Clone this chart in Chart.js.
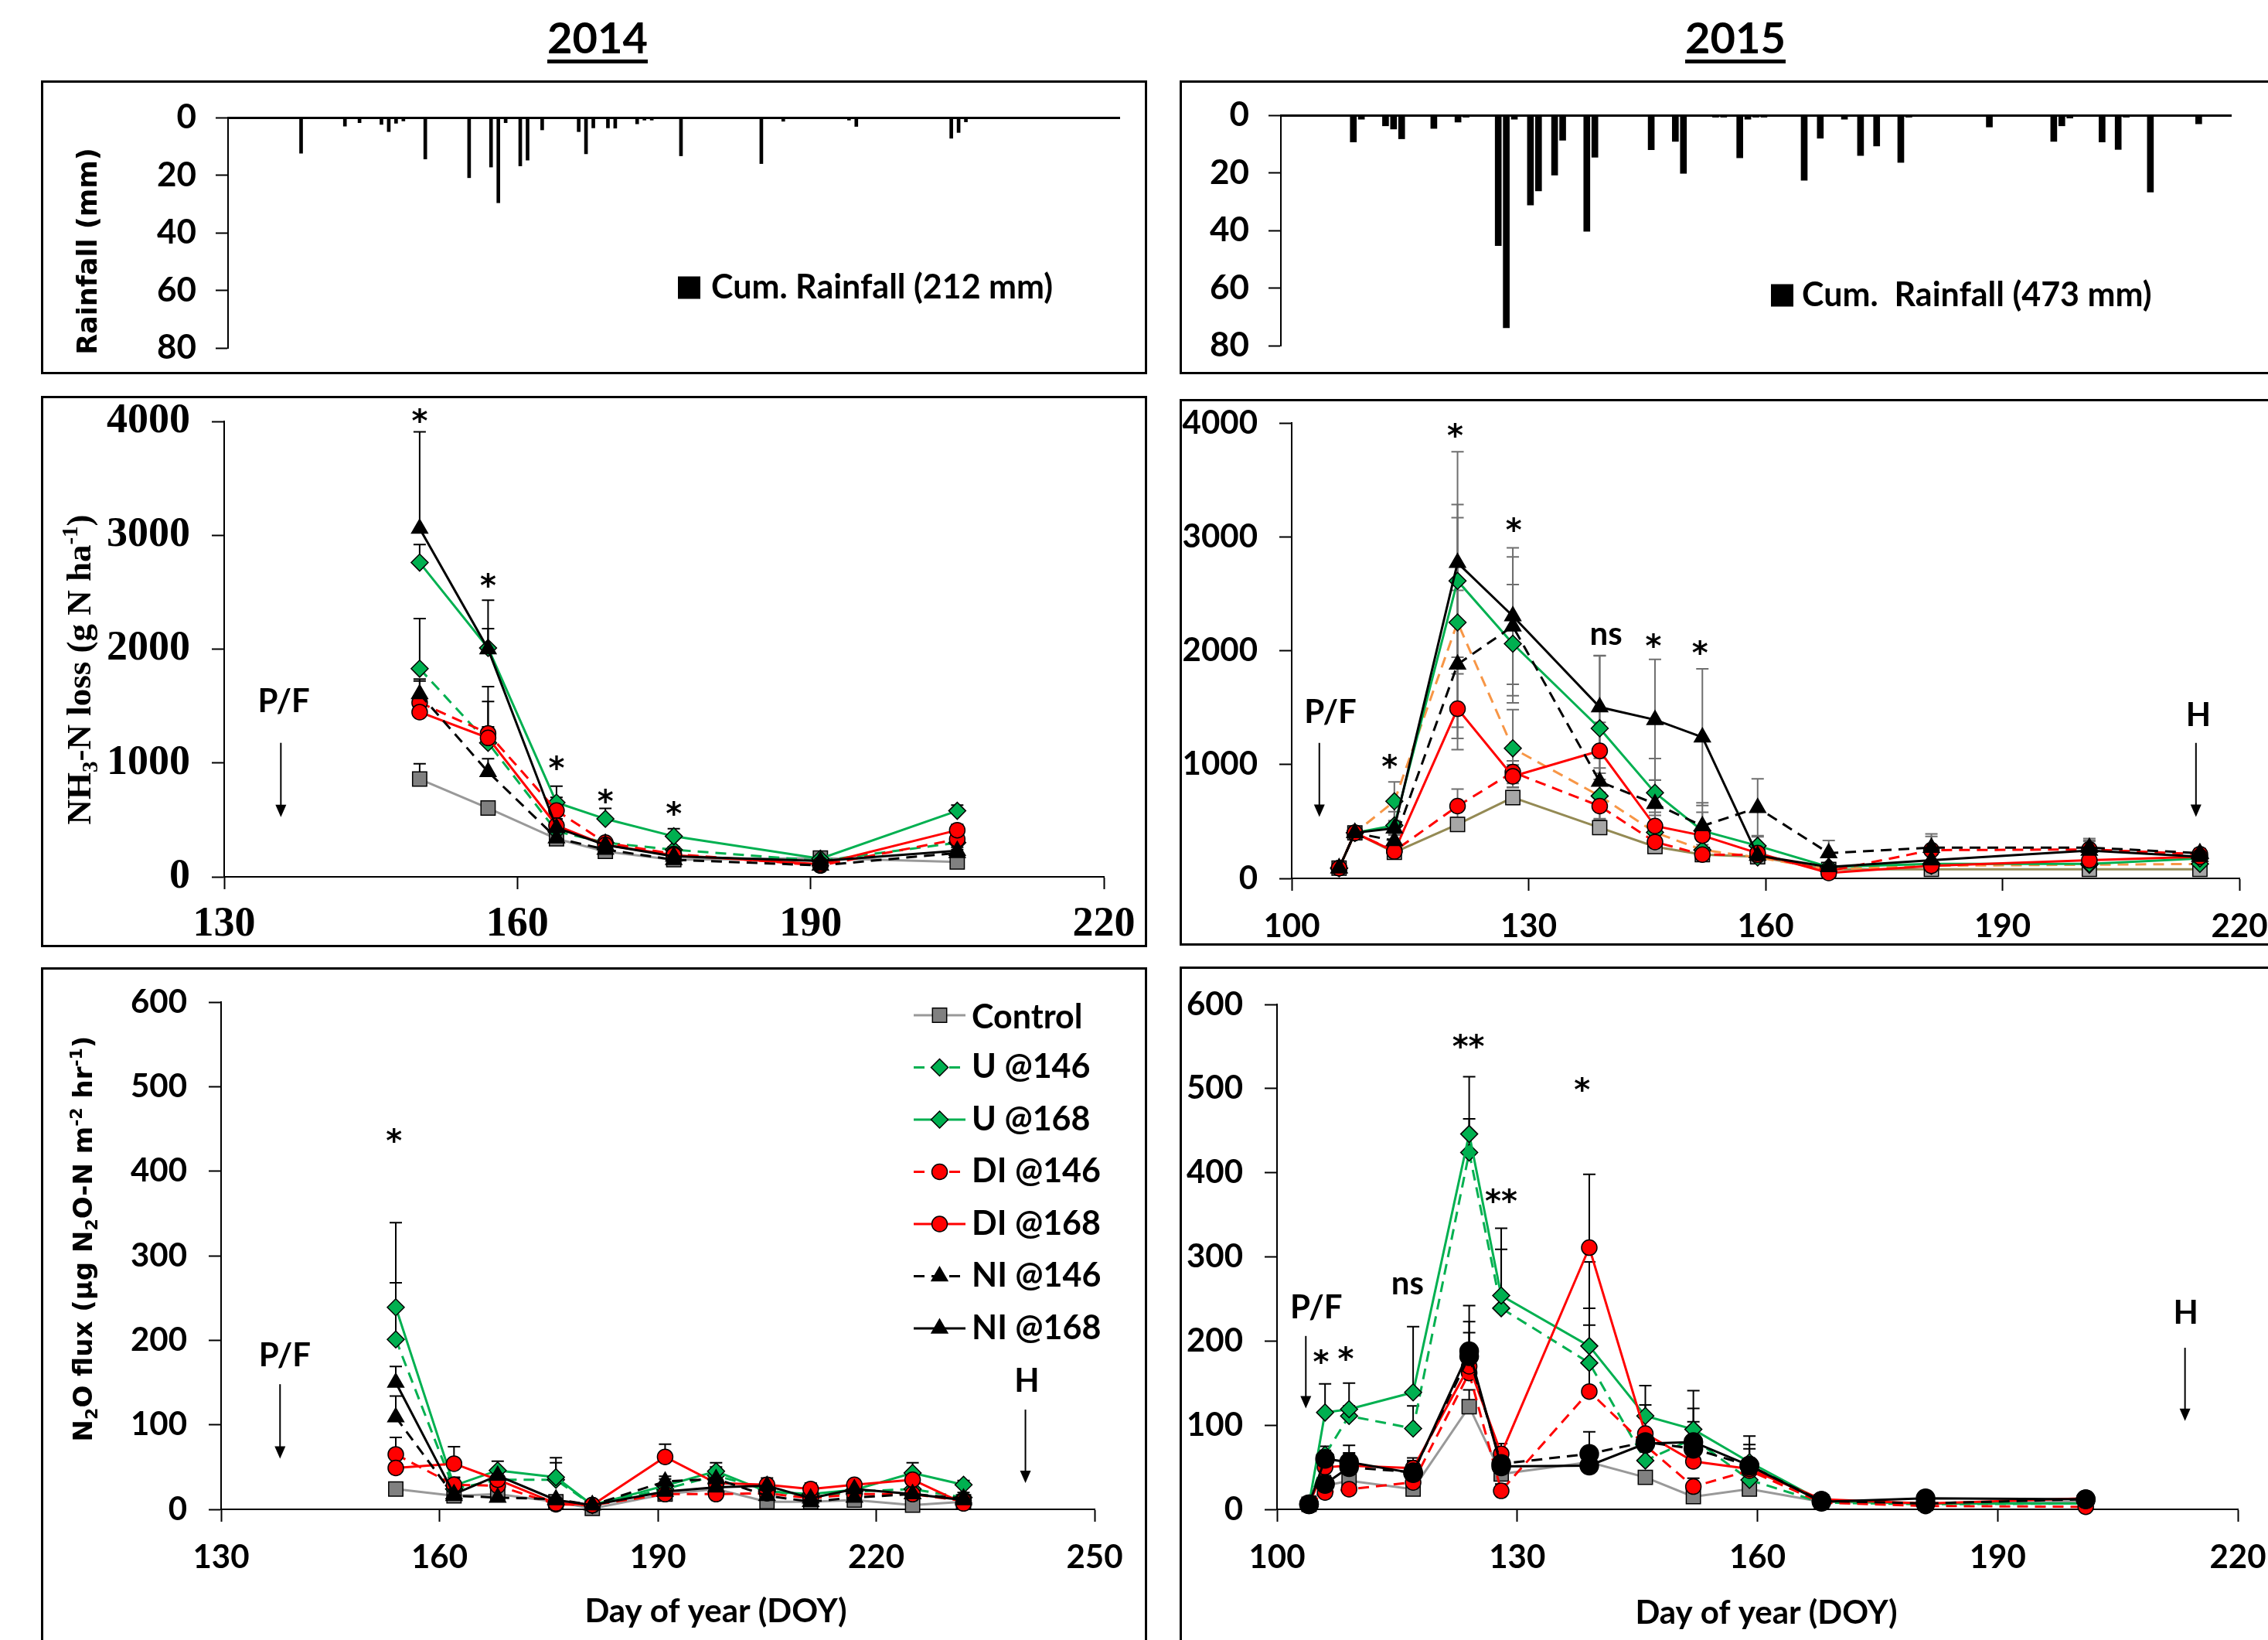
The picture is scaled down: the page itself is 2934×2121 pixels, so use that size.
<!DOCTYPE html>
<html>
<head>
<meta charset="utf-8">
<title>Rainfall, NH3 and N2O losses 2014-2015</title>
<script src="https://cdn.jsdelivr.net/npm/chart.js@4.4.1/dist/chart.umd.min.js"></script>
<style>
  html, body { margin: 0; padding: 0; background: #fff; }
  body { position: relative; width: 2934px; height: 2121px; overflow: hidden; }
  canvas { position: absolute; }
  .frame { position: absolute; border: 3px solid #000; box-sizing: border-box; pointer-events: none; }
  .year { position: absolute; top: 14px; width: 240px; text-align: center; font: bold 56px Lato, sans-serif;
          text-decoration: underline; text-decoration-thickness: 5px; text-underline-offset: 8px; }
</style>
</head>
<body>
<div class="year" style="left:653px">2014</div>
<div class="year" style="left:2125px">2015</div>
<script>
// ---------- data ----------
const seriesNames = ["Control", "U @146", "U @168", "DI @146", "DI @168", "NI @146", "NI @168"];

// daily rainfall (mm)
const rain14Day = [135, 141, 143, 146, 147, 148, 149, 152, 158, 161, 162, 163, 165, 166, 168, 173, 174, 175, 177, 178, 181, 182, 183, 187, 198, 201, 210, 211, 224, 225, 226];
const rain14Mm  = [12.4, 3, 1.8, 2.4, 4.9, 2, 1.2, 14.4, 20.9, 17.2, 29.6, 1.8, 16.8, 14.8, 4.3, 4.9, 12.6, 3.6, 3.6, 3.7, 2.2, 0.9, 0.9, 13.3, 16, 1.3, 0.9, 3.1, 7.2, 5.2, 1.5];
const rain15Day = [109, 110, 113, 114, 115, 119, 122, 123, 127, 128, 129, 131, 132, 134, 135, 138, 139, 146, 149, 150, 154, 155, 157, 158, 159, 160, 165, 167, 170, 172, 174, 177, 178, 188, 196, 197, 198, 202, 204, 205, 208, 214];
const rain15Mm  = [9.3, 1.4, 3.7, 4.8, 8.2, 4.6, 2.4, 0.7, 45.3, 73.8, 1.4, 31.2, 26.3, 20.8, 8.7, 40.3, 14.6, 12, 9.1, 20.2, 0.7, 0.7, 14.8, 1.4, 0.7, 0.7, 22.6, 8, 1.4, 14, 10.7, 16.4, 0.7, 4.1, 9.1, 3.7, 1, 9.3, 11.9, 0.7, 26.7, 3];

// NH3-N loss 2014 (g N ha-1)
const nh14Day     = [150, 157, 164, 169, 176, 191, 205];
const nh14Control = [859, 604, 334, 223, 150, 165, 130];
const nh14U146    = [1828, 1177, 400, 300, 238, 140, 300];
const nh14U168    = [2760, 2010, 652, 509, 356, 160, 580];
const nh14DI146   = [1530, 1260, 582, 300, 200, 100, 330];
const nh14DI168   = [1447, 1220, 450, 280, 190, 110, 410];
const nh14NI146   = [1606, 922, 340, 240, 150, 100, 210];
const nh14NI168   = [3059, 2000, 430, 280, 180, 140, 230];
const nh14ControlErr = [135, 40, 30, 20, 15, 20, 15];
const nh14U146Err    = [440, 140, 60, 30, 25, 20, 40];
const nh14U168Err    = [158, 170, 145, 92, 67, 30, 50];
const nh14DI146Err   = [190, 410, 115, 30, 20, 15, 40];
const nh14DI168Err   = [120, 320, 60, 30, 20, 15, 50];
const nh14NI146Err   = [130, 115, 40, 25, 20, 15, 30];
const nh14NI168Err   = [850, 430, 60, 30, 20, 20, 30];

// NH3-N loss 2015
const nh15Day     = [106, 108, 113, 121, 128, 139, 146, 152, 159, 168, 181, 201, 215];
const nh15Control = [90, 400, 228, 474, 710, 446, 279, 209, 190, 79, 79, 79, 79];
const nh15U146    = [90, 400, 677, 2248, 1142, 724, 404, 250, 184, 79, 111, 120, 127];
const nh15U168    = [90, 400, 465, 2613, 2061, 1318, 752, 418, 286, 100, 127, 127, 175];
const nh15DI146   = [90, 400, 240, 635, 933, 635, 320, 209, 206, 64, 248, 254, 213];
const nh15DI168   = [90, 400, 237, 1490, 897, 1120, 460, 376, 222, 48, 111, 159, 190];
const nh15NI146   = [90, 400, 330, 1880, 2214, 850, 655, 460, 620, 222, 270, 270, 222];
const nh15NI168   = [90, 400, 440, 2772, 2304, 1504, 1393, 1240, 200, 100, 159, 245, 190];
const nh15ControlErr = [10, 20, 30, 60, 60, 40, 30, 20, 20, 10, 10, 10, 10];
const nh15U146Err    = [10, 30, 170, 920, 340, 200, 150, 80, 50, 20, 30, 20, 20];
const nh15U168Err    = [10, 30, 120, 670, 520, 640, 300, 245, 90, 20, 30, 30, 30];
const nh15DI146Err   = [10, 30, 40, 150, 100, 120, 80, 50, 40, 20, 120, 80, 40];
const nh15DI168Err   = [10, 30, 40, 360, 100, 250, 120, 80, 50, 20, 40, 40, 40];
const nh15NI146Err   = [10, 30, 60, 650, 610, 120, 210, 120, 255, 110, 120, 80, 40];
const nh15NI168Err   = [10, 30, 60, 975, 600, 450, 530, 600, 70, 30, 50, 80, 40];

// N2O flux 2014 (ug N2O-N m-2 hr-1)
const n2o14Day     = [154, 162, 168, 176, 181, 191, 198, 205, 211, 217, 225, 232];
const n2o14Control = [24, 16, 18, 9, 1, 18, 24, 9, 9, 11, 5, 9];
const n2o14U146    = [201, 24, 35, 35, 5, 24, 40, 23, 14, 21, 24, 14];
const n2o14U168    = [239, 28, 46, 38, 5, 28, 45, 21, 18, 23, 43, 29];
const n2o14DI146   = [65, 29, 28, 6, 5, 18, 18, 19, 13, 18, 18, 10];
const n2o14DI168   = [49, 54, 35, 7, 5, 62, 31, 29, 24, 29, 35, 7];
const n2o14NI146   = [109, 16, 14, 12, 5, 33, 36, 16, 9, 14, 18, 13];
const n2o14NI168   = [150, 18, 40, 11, 5, 21, 26, 28, 13, 24, 18, 11];
const n2o14ControlErr = [5, 3, 3, 2, 1, 3, 3, 3, 2, 2, 2, 2];
const n2o14U146Err    = [67, 8, 8, 20, 2, 8, 10, 6, 6, 6, 8, 6];
const n2o14U168Err    = [100, 10, 11, 23, 2, 8, 10, 6, 6, 6, 12, 5];
const n2o14DI146Err   = [20, 8, 6, 3, 2, 6, 6, 5, 5, 5, 6, 4];
const n2o14DI168Err   = [10, 20, 8, 3, 2, 15, 8, 8, 7, 6, 8, 4];
const n2o14NI146Err   = [25, 5, 4, 4, 2, 6, 8, 5, 4, 4, 5, 4];
const n2o14NI168Err   = [19, 5, 8, 4, 2, 6, 6, 5, 5, 5, 5, 4];

// N2O flux 2015
const n2o15Day     = [104, 106, 109, 117, 124, 128, 139, 146, 152, 159, 168, 181, 201];
const n2o15Control = [6, 28, 34, 24, 122, 42, 56, 38, 15, 24, 9, 7, 9];
const n2o15U146    = [6, 65, 111, 96, 424, 239, 174, 58, 84, 35, 8, 6, 7];
const n2o15U168    = [6, 115, 119, 139, 446, 254, 194, 111, 95, 56, 10, 7, 7];
const n2o15DI146   = [6, 20, 24, 32, 162, 22, 140, 76, 27, 46, 8, 4, 3];
const n2o15DI168   = [6, 50, 52, 49, 170, 66, 311, 90, 57, 48, 12, 7, 13];
const n2o15NI146   = [6, 30, 50, 44, 182, 54, 66, 80, 72, 52, 10, 7, 12];
const n2o15NI168   = [6, 60, 56, 43, 188, 51, 52, 78, 80, 52, 9, 13, 12];
const n2o15ControlErr = [2, 5, 5, 5, 20, 8, 8, 8, 5, 5, 2, 2, 2];
const n2o15U146Err    = [2, 10, 12, 27, 40, 70, 45, 15, 20, 15, 3, 2, 2];
const n2o15U168Err    = [2, 34, 31, 78, 68, 80, 45, 36, 46, 31, 3, 2, 2];
const n2o15DI146Err   = [2, 8, 8, 8, 30, 8, 154, 10, 10, 10, 3, 2, 2];
const n2o15DI168Err   = [2, 12, 15, 12, 40, 12, 87, 34, 12, 12, 3, 2, 2];
const n2o15NI146Err   = [2, 10, 15, 12, 60, 10, 26, 15, 15, 20, 3, 2, 2];
const n2o15NI168Err   = [2, 10, 20, 15, 35, 10, 10, 15, 40, 25, 3, 2, 2];

// ---------- styling ----------
const LATO = "Lato, 'Open Sans', sans-serif";
const SERIF = "'Liberation Serif', 'Times New Roman', serif";
const WIDE = "'DejaVu Sans', Verdana, sans-serif";
const green = "#00B050", red = "#FF0000", orange = "#F79646", olive = "#948A54";
const DASH = [14, 9];

Chart.defaults.font.family = LATO;
Chart.defaults.color = "#000";

const baseLook = [
  { line: "#999999", fill: "#808080", pt: "rect", r: 13 },
  { line: green, fill: green, pt: "rectRot", r: 11, dash: true },
  { line: green, fill: green, pt: "rectRot", r: 11 },
  { line: red, fill: red, pt: "circle", r: 10, dash: true },
  { line: red, fill: red, pt: "circle", r: 10 },
  { line: "#000", fill: "#000", pt: "triangle", r: 12, dash: true },
  { line: "#000", fill: "#000", pt: "triangle", r: 12 }
];
const look15nh = baseLook.map((s, i) =>
  i === 0 ? { ...s, line: olive, fill: "#A6A6A6" } : i === 1 ? { ...s, line: orange } : s);
const look15n2o = baseLook.map((s, i) => i >= 5 ? { ...s, pt: "circle", r: 12 } : s);

function makeSets(days, vals, errs, look) {
  return vals.map((v, i) => ({
    label: seriesNames[i],
    data: days.map((d, k) => ({ x: d, y: v[k] })),
    errs: errs[i],
    borderColor: look[i].line,
    borderWidth: 3,
    borderDash: look[i].dash ? DASH : [],
    pointStyle: look[i].pt,
    pointRadius: look[i].r,
    pointBackgroundColor: look[i].fill,
    pointBorderColor: "#000",
    pointBorderWidth: 1.5,
    tension: 0,
    fill: false,
    clip: false,
    order: 10 - i
  }));
}

// ---------- drawing helpers ----------
function putText(ctx, text, font, x, y, align) {
  ctx.font = font;
  ctx.textAlign = align || "center";
  ctx.textBaseline = "alphabetic";
  const m = ctx.measureText(text);
  ctx.fillText(text, x, y + (m.actualBoundingBoxAscent - m.actualBoundingBoxDescent) / 2);
}

function drawRich(ctx, parts, size, family, cx, cy, rotate) {
  ctx.save();
  ctx.translate(cx, cy);
  if (rotate) ctx.rotate(-Math.PI / 2);
  const f = p => `bold ${p.sub || p.sup ? Math.round(size * 0.65) : size}px ${family}`;
  let w = 0;
  parts.forEach(p => { ctx.font = f(p); w += ctx.measureText(p.t).width; });
  let x = -w / 2;
  ctx.textAlign = "left";
  ctx.textBaseline = "alphabetic";
  parts.forEach(p => {
    ctx.font = f(p);
    const dy = p.sub ? size * 0.2 : p.sup ? -size * 0.38 : 0;
    ctx.fillText(p.t, x, size * 0.35 + dy);
    x += ctx.measureText(p.t).width;
  });
  ctx.restore();
}

function drawMarker(ctx, style, r, x, y) {
  ctx.beginPath();
  if (style === "rect") {
    const s = r * Math.SQRT1_2;
    ctx.rect(x - s, y - s, 2 * s, 2 * s);
  } else if (style === "rectRot") {
    ctx.moveTo(x - r, y); ctx.lineTo(x, y - r); ctx.lineTo(x + r, y); ctx.lineTo(x, y + r);
    ctx.closePath();
  } else if (style === "triangle") {
    for (let k = 0; k < 3; k++) {
      const a = k * 2 * Math.PI / 3;
      const px = x + Math.sin(a) * r, py = y - Math.cos(a) * r;
      k ? ctx.lineTo(px, py) : ctx.moveTo(px, py);
    }
    ctx.closePath();
  } else {
    ctx.arc(x, y, r, 0, Math.PI * 2);
  }
  ctx.fill();
  ctx.stroke();
}

const errorBars = {
  id: "errorBars",
  beforeDatasetsDraw(chart, args, o) {
    if (!o || !o.color) return;
    const ctx = chart.ctx, ys = chart.scales.y;
    ctx.save();
    ctx.strokeStyle = o.color;
    ctx.lineWidth = 2;
    chart.data.datasets.forEach((ds, i) => {
      if (!ds.errs) return;
      chart.getDatasetMeta(i).data.forEach((pt, k) => {
        const e = ds.errs[k];
        if (!e) return;
        const v = ds.data[k].y;
        const top = ys.getPixelForValue(v + e);
        const bot = o.both ? ys.getPixelForValue(Math.max(0, v - e)) : pt.y;
        ctx.beginPath();
        ctx.moveTo(pt.x, top); ctx.lineTo(pt.x, bot);
        ctx.moveTo(pt.x - 8, top); ctx.lineTo(pt.x + 8, top);
        if (o.both) { ctx.moveTo(pt.x - 8, bot); ctx.lineTo(pt.x + 8, bot); }
        ctx.stroke();
      });
    });
    ctx.restore();
  }
};

const notes = {
  id: "notes",
  afterDraw(chart, args, o) {
    const ctx = chart.ctx, xs = chart.scales.x, ys = chart.scales.y;
    ctx.save();
    ctx.fillStyle = "#000";
    ctx.strokeStyle = "#000";
    (o.texts || []).forEach(t => {
      const star = /^\*+$/.test(t.t);
      const font = star ? `bold 40px ${WIDE}` : `bold 42px ${LATO}`;
      putText(ctx, t.t, font, xs.getPixelForValue(t.x), ys.getPixelForValue(t.y));
    });
    (o.arrows || []).forEach(a => {
      const x = xs.getPixelForValue(a.x), y1 = ys.getPixelForValue(a.y1), y2 = ys.getPixelForValue(a.y2);
      ctx.lineWidth = 2;
      ctx.beginPath(); ctx.moveTo(x, y1); ctx.lineTo(x, y2 - 14); ctx.stroke();
      ctx.beginPath(); ctx.moveTo(x - 7, y2 - 16); ctx.lineTo(x + 7, y2 - 16); ctx.lineTo(x, y2); ctx.closePath(); ctx.fill();
    });
    (o.titles || []).forEach(l => drawRich(ctx, l.parts, l.size, l.family, l.px, l.py, l.rot));
    if (o.key) {
      const k = o.key;
      ctx.fillRect(k.x, k.y - k.s / 2, k.s, k.s);
      putText(ctx, k.text, `bold ${k.size}px ${LATO}`, k.tx, k.y, "left");
    }
    if (o.legend) {
      const L = o.legend;
      chart.data.datasets.forEach((ds, i) => {
        const y = L.y0 + i * L.dy;
        ctx.strokeStyle = ds.borderColor;
        ctx.lineWidth = 3;
        ctx.setLineDash(ds.borderDash || []);
        ctx.beginPath(); ctx.moveTo(L.x1, y); ctx.lineTo(L.x2, y); ctx.stroke();
        ctx.setLineDash([]);
        ctx.fillStyle = ds.pointBackgroundColor;
        ctx.strokeStyle = "#000";
        ctx.lineWidth = 1.5;
        drawMarker(ctx, ds.pointStyle, ds.pointRadius, (L.x1 + L.x2) / 2, y);
        ctx.fillStyle = "#000";
        putText(ctx, ds.label, `bold ${L.size}px ${LATO}`, L.tx, y, "left");
      });
    }
    ctx.restore();
  }
};

// ---------- layout ----------
function place(box) {
  const cv = document.createElement("canvas");
  cv.width = box.r - box.l;
  cv.height = box.b - box.t;
  cv.style.left = box.l + "px";
  cv.style.top = box.t + "px";
  document.body.appendChild(cv);
  const fr = document.createElement("div");
  fr.className = "frame";
  Object.assign(fr.style, { left: box.l + "px", top: box.t + "px", width: cv.width + "px", height: cv.height + "px" });
  document.body.appendChild(fr);
  return cv;
}

function axis(dir, min, max, step, font, size, pad) {
  return {
    type: "linear", min, max,
    ticks: { stepSize: step, padding: pad, color: "#000", font, maxRotation: 0, autoSkip: false, callback: v => String(v) },
    grid: { drawOnChartArea: false, drawTicks: true, tickLength: 16, tickWidth: 2, tickColor: "#000" },
    border: { display: true, color: "#000", width: 2 },
    afterFit: s => {
      if (dir === "x") s.height = size; else s.width = size;
      // keep the plot box where it is: no extra room for overhanging labels
      s.paddingTop = s.paddingBottom = s.paddingLeft = s.paddingRight = 0;
    }
  };
}

function lineChart(box, plot, c) {
  return new Chart(place(box), {
    type: "line",
    data: { datasets: c.sets },
    options: {
      responsive: false, animation: false, devicePixelRatio: 1,
      layout: { padding: { left: 0, top: plot.t - box.t, right: box.r - plot.r, bottom: 0 } },
      scales: {
        x: axis("x", c.xMin, c.xMax, 30, c.font, box.b - plot.b, c.xPad),
        y: axis("y", 0, c.yMax, c.yStep, c.font, plot.l - box.l, 28)
      },
      plugins: { legend: { display: false }, tooltip: { enabled: false }, errorBars: c.err, notes: c.notes }
    },
    plugins: [errorBars, notes]
  });
}

function rainChart(box, plot, days, mm, xMin, xMax, barW, extra) {
  const y = axis("y", 0, 80, 20, { family: LATO, size: 44, weight: "bold" }, plot.l - box.l, 25);
  y.reverse = true;
  return new Chart(place(box), {
    type: "bar",
    data: { datasets: [{ label: "Rainfall", data: days.map((d, i) => ({ x: d, y: mm[i] })), backgroundColor: "#000", barThickness: barW, grouped: false }] },
    options: {
      responsive: false, animation: false, devicePixelRatio: 1,
      layout: { padding: { left: 0, top: plot.t - box.t, right: box.r - plot.r, bottom: box.b - plot.b } },
      scales: {
        x: { type: "linear", position: "top", min: xMin, max: xMax, offset: false,
             ticks: { display: false }, grid: { display: false, drawTicks: false },
             border: { display: true, color: "#000", width: 3 },
             afterFit: s => { s.height = 0; s.paddingLeft = s.paddingRight = 0; } },
        y
      },
      plugins: { legend: { display: false }, tooltip: { enabled: false }, notes: extra }
    },
    plugins: [notes]
  });
}

const latoTick = { family: LATO, size: 42, weight: "bold" };
const serifTick = { family: SERIF, size: 54, weight: "bold" };
const doyTitle = [{ t: "Day of year (DOY)" }];

// ---------- rainfall ----------
rainChart({ l: 53, t: 104, r: 1484, b: 484 }, { l: 295, t: 152, r: 1448, b: 450 },
  rain14Day, rain14Mm, 125, 247, 4, {
    titles: [{ parts: [{ t: "Rainfall (mm)" }], size: 35, family: WIDE, px: 60, py: 221, rot: true }],
    key: { x: 824, y: 268, s: 29, tx: 867, size: 43, text: "Cum. Rainfall (212 mm)" }
  });
rainChart({ l: 1526, t: 104, r: 2960, b: 484 }, { l: 1657, t: 149, r: 2886, b: 447 },
  rain15Day, rain15Mm, 100, 218, 8, {
    key: { x: 765, y: 278, s: 29, tx: 805, size: 43, text: "Cum.  Rainfall (473 mm)" }
  });

// ---------- NH3 ----------
lineChart({ l: 53, t: 512, r: 1484, b: 1225 }, { l: 290, t: 545, r: 1428, b: 1134 }, {
  sets: makeSets(nh14Day,
    [nh14Control, nh14U146, nh14U168, nh14DI146, nh14DI168, nh14NI146, nh14NI168],
    [nh14ControlErr, nh14U146Err, nh14U168Err, nh14DI146Err, nh14DI168Err, nh14NI146Err, nh14NI168Err], baseLook),
  xMin: 130, xMax: 220, yMax: 4000, yStep: 1000, font: serifTick, xPad: 14,
  err: { color: "#000", both: false },
  notes: {
    texts: [
      { x: 150, y: 4055, t: "*" }, { x: 157, y: 2608, t: "*" }, { x: 164, y: 1002, t: "*" },
      { x: 169, y: 716, t: "*" }, { x: 176, y: 604, t: "*" }, { x: 136.1, y: 1542, t: "P/F" }
    ],
    arrows: [{ x: 135.8, y1: 1177, y2: 525 }],
    titles: [{ parts: [{ t: "NH" }, { t: "3", sub: true }, { t: "-N loss (g N ha" }, { t: "-1", sup: true }, { t: ")" }],
               size: 45, family: SERIF, px: 48, py: 354, rot: true }]
  }
});

lineChart({ l: 1526, t: 516, r: 2960, b: 1223 }, { l: 1671, t: 547, r: 2897, b: 1136 }, {
  sets: makeSets(nh15Day,
    [nh15Control, nh15U146, nh15U168, nh15DI146, nh15DI168, nh15NI146, nh15NI168],
    [nh15ControlErr, nh15U146Err, nh15U168Err, nh15DI146Err, nh15DI168Err, nh15NI146Err, nh15NI168Err], look15nh),
  xMin: 100, xMax: 220, yMax: 4000, yStep: 1000, font: latoTick, xPad: 21,
  err: { color: "#6f6f6f", both: true },
  notes: {
    texts: [
      { x: 104.9, y: 1460, t: "P/F" }, { x: 112.4, y: 1032, t: "*" }, { x: 120.7, y: 3937, t: "*" },
      { x: 128.1, y: 3111, t: "*" }, { x: 139.8, y: 2127, t: "ns" }, { x: 145.8, y: 2095, t: "*" },
      { x: 151.7, y: 2032, t: "*" }, { x: 214.8, y: 1445, t: "H" }
    ],
    arrows: [{ x: 103.5, y1: 1190, y2: 540 }, { x: 214.5, y1: 1190, y2: 540 }]
  }
});

// ---------- N2O ----------
lineChart({ l: 53, t: 1251, r: 1484, b: 2140 }, { l: 286, t: 1296, r: 1416, b: 1952 }, {
  sets: makeSets(n2o14Day,
    [n2o14Control, n2o14U146, n2o14U168, n2o14DI146, n2o14DI168, n2o14NI146, n2o14NI168],
    [n2o14ControlErr, n2o14U146Err, n2o14U168Err, n2o14DI146Err, n2o14DI168Err, n2o14NI146Err, n2o14NI168Err], baseLook),
  xMin: 130, xMax: 250, yMax: 600, yStep: 100, font: latoTick, xPad: 21,
  err: { color: "#000", both: false },
  notes: {
    texts: [
      { x: 153.75, y: 443, t: "*" }, { x: 138.75, y: 182, t: "P/F" }, { x: 240.7, y: 153, t: "H" }
    ],
    arrows: [{ x: 138.1, y1: 148, y2: 60 }, { x: 240.5, y1: 118, y2: 31 }],
    titles: [
      { parts: [{ t: "N" }, { t: "2", sub: true }, { t: "O flux (µg N" }, { t: "2", sub: true }, { t: "O-N m" },
                { t: "-2", sup: true }, { t: " hr" }, { t: "-1", sup: true }, { t: ")" }],
        size: 34, family: WIDE, px: 54, py: 351, rot: true },
      { parts: doyTitle, size: 42, family: LATO, px: 873, py: 832 }
    ],
    legend: { x1: 1129, x2: 1196, tx: 1204, y0: 62, dy: 67.5, size: 43 }
  }
});

lineChart({ l: 1526, t: 1250, r: 2960, b: 2140 }, { l: 1652, t: 1299, r: 2895, b: 1952 }, {
  sets: makeSets(n2o15Day,
    [n2o15Control, n2o15U146, n2o15U168, n2o15DI146, n2o15DI168, n2o15NI146, n2o15NI168],
    [n2o15ControlErr, n2o15U146Err, n2o15U168Err, n2o15DI146Err, n2o15DI168Err, n2o15NI146Err, n2o15NI168Err], look15n2o),
  xMin: 100, xMax: 220, yMax: 600, yStep: 100, font: latoTick, xPad: 21,
  err: { color: "#000", both: false },
  notes: {
    texts: [
      { x: 104.9, y: 240, t: "P/F" }, { x: 105.5, y: 182, t: "*" }, { x: 108.6, y: 186, t: "*" },
      { x: 116.3, y: 266, t: "ns" }, { x: 123.9, y: 557, t: "**" }, { x: 128, y: 373, t: "**" },
      { x: 138.1, y: 505, t: "*" }, { x: 213.5, y: 235, t: "H" }
    ],
    arrows: [{ x: 103.6, y1: 206, y2: 120 }, { x: 213.4, y1: 192, y2: 105 }],
    titles: [{ parts: doyTitle, size: 42, family: LATO, px: 759, py: 835 }]
  }
});
</script>
</body>
</html>
